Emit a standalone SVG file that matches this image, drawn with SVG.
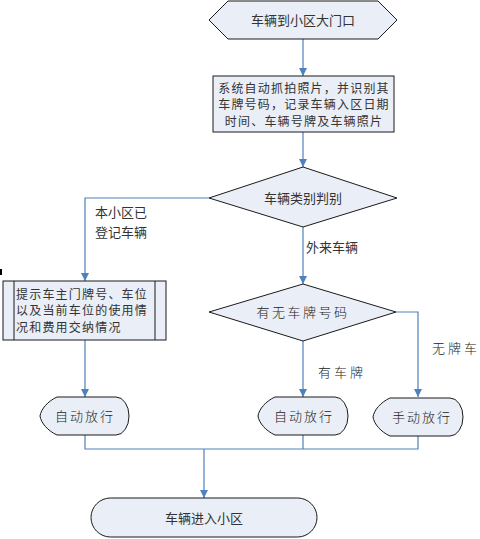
<svg xmlns="http://www.w3.org/2000/svg" width="480" height="539" viewBox="0 0 480 539">
<style>
.s{fill:#e9eef7;stroke:#1a1a1a;stroke-width:1}
.t{font-family:"Noto Sans CJK SC","Liberation Sans",sans-serif;font-size:13px;fill:#333}
.m{font-family:"Noto Sans CJK SC","Liberation Sans",sans-serif;font-size:12px;letter-spacing:1.2px;fill:#333}
.h{font-family:"Noto Sans CJK SC","Liberation Sans",sans-serif;font-size:13px;fill:#222;font-weight:300}
.c{fill:none;stroke:#4f81bd;stroke-width:1.2}
</style>
<defs>
<marker id="a" viewBox="0 0 8 8" refX="8" refY="4" markerWidth="8" markerHeight="8" markerUnits="userSpaceOnUse" orient="auto">
<path d="M0,0 L8,4 L0,8 Z" fill="#4f81bd"/>
</marker>
</defs>
<rect width="480" height="539" fill="#fff"/>
<rect x="0" y="269" width="2" height="6" fill="#000"/>
<g id="connectors">
<path class="c" d="M303,39 V76" marker-end="url(#a)"/>
<path class="c" d="M303,132 V167" marker-end="url(#a)"/>
<path class="c" d="M209,198 H85 V281" marker-end="url(#a)"/>
<path class="c" d="M303,227 V284" marker-end="url(#a)"/>
<path class="c" d="M303,341 V397" marker-end="url(#a)"/>
<path class="c" d="M396,312 H418 V397" marker-end="url(#a)"/>
<path class="c" d="M85,340 V397" marker-end="url(#a)"/>
<path class="c" d="M85,435 V449 H418 V436 M303,435 V449"/>
<path class="c" d="M204,449 V498" marker-end="url(#a)"/>
<text class="t" x="95" y="217">本小区已</text>
<text class="t" x="95" y="237">登记车辆</text>
<text class="t" x="306" y="252">外来车辆</text>
<text class="h" x="318" y="377" letter-spacing="3">有车牌</text>
<text class="h" x="432" y="353" letter-spacing="3">无牌车</text>
</g>
<g id="start">
<path class="s" d="M209,20 L228,1 L378,1 L397,20 L378,39 L228,39 Z"/>
<text class="t" x="303" y="25" text-anchor="middle">车辆到小区大门口</text>
</g>
<g id="capture">
<rect class="s" x="213" y="76" width="181" height="56"/>
<text class="m" x="304" y="92.5" text-anchor="middle">系统自动抓拍照片，并识别其</text>
<text class="m" x="304" y="109" text-anchor="middle">车牌号码，记录车辆入区日期</text>
<text class="m" x="304" y="125.5" text-anchor="middle">时间、车辆号牌及车辆照片</text>
</g>
<g id="classify">
<path class="s" d="M209,198 L303,167 L397,198 L303,227 Z"/>
<text class="t" x="303" y="203" text-anchor="middle">车辆类别判别</text>
</g>
<g id="prompt">
<rect class="s" x="3" y="281" width="163" height="59"/>
<path d="M14,281 V340 M155,281 V340" stroke="#1a1a1a" stroke-width="1"/>
<text class="m" x="16" y="298.5">提示车主门牌号、车位</text>
<text class="m" x="16" y="315">以及当前车位的使用情</text>
<text class="m" x="16" y="331.5">况和费用交纳情况</text>
</g>
<g id="plate">
<path class="s" d="M209,312 L303,284 L396,312 L303,341 Z"/>
<text class="h" x="303" y="317" text-anchor="middle" letter-spacing="2.5">有无车牌号码</text>
</g>
<g id="auto1">
<path class="s" d="M57,397 L116,397 A13,19 0 0 1 116,435 L57,435 C48,431 41,423 40,416 C41,409 48,401 57,397 Z"/>
<text class="h" x="85" y="421" text-anchor="middle" letter-spacing="2">自动放行</text>
</g>
<g id="auto2">
<path class="s" d="M275,397 L335,397 A13,19 0 0 1 335,435 L275,435 C266,431 259,423 258,416 C259,409 266,401 275,397 Z"/>
<text class="h" x="304" y="421" text-anchor="middle" letter-spacing="2">自动放行</text>
</g>
<g id="manual">
<path class="s" d="M390,398 L450,398 A13,19 0 0 1 450,436 L390,436 C381,432 374,424 373,417 C374,410 381,402 390,398 Z"/>
<text class="h" x="422" y="422" text-anchor="middle" letter-spacing="2">手动放行</text>
</g>
<g id="end">
<rect class="s" x="91" y="498" width="226" height="39" rx="19.5"/>
<text class="t" x="204" y="523" text-anchor="middle">车辆进入小区</text>
</g>
</svg>
